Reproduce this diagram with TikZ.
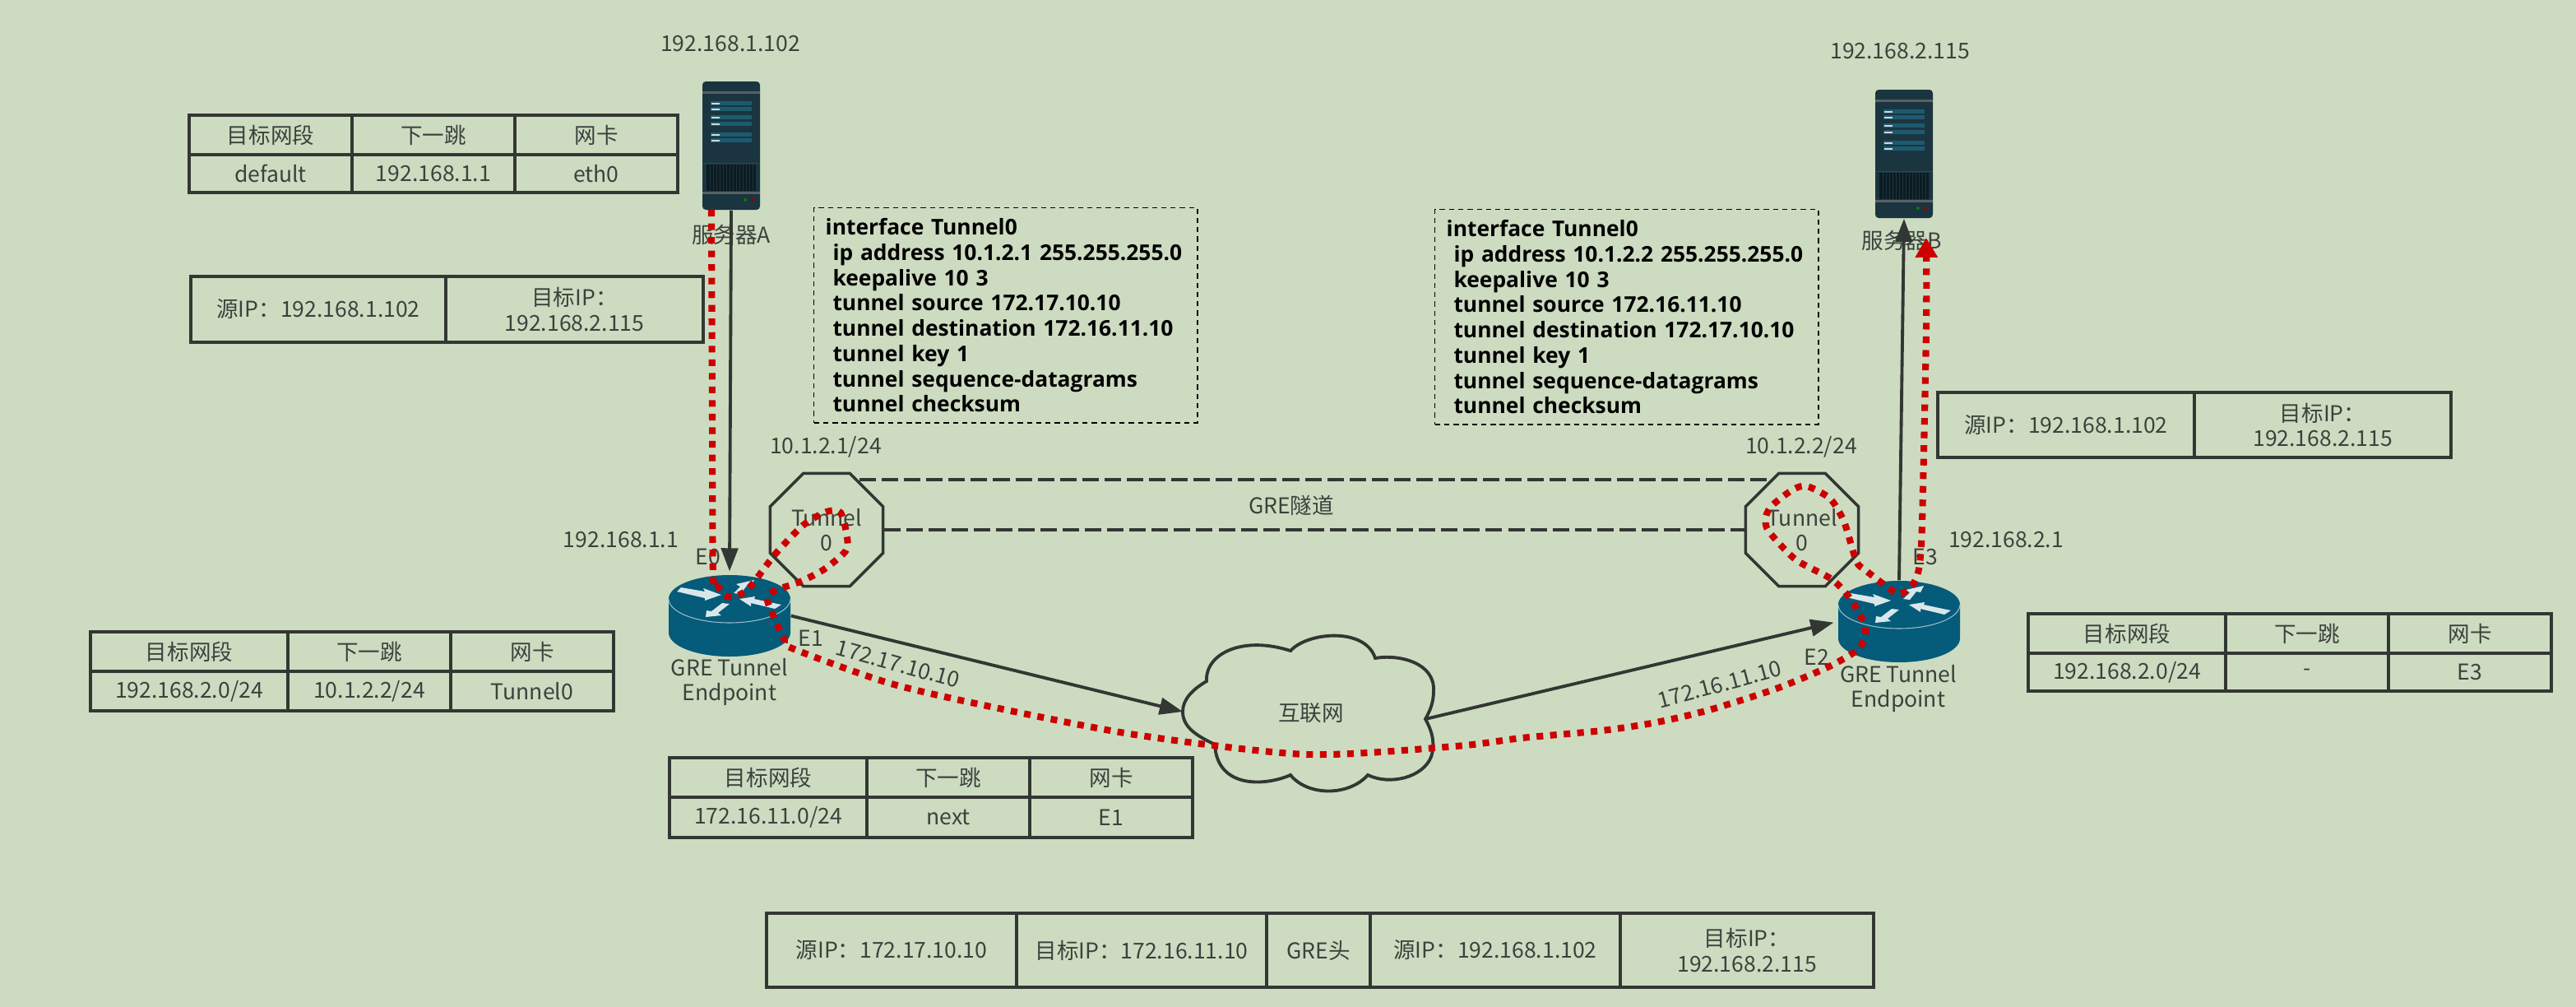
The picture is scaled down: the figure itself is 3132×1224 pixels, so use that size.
\documentclass[tikz,border=0pt]{standalone}
\usepackage{fontspec}
\setmainfont{Noto Sans CJK SC}
\newfontfamily\codefont{Open Sans}
\usetikzlibrary{arrows.meta,shapes.geometric}
\definecolor{paper}{HTML}{CDDCC1}
\definecolor{ink}{HTML}{333733}
\definecolor{labelgray}{HTML}{3C423C}
\definecolor{routerblue}{HTML}{045B7A}
\definecolor{serverdark}{HTML}{1A3540}
\definecolor{serverbar}{HTML}{1D5A70}
\definecolor{routered}{HTML}{CC0000}
\tikzset{
    labeltext/.style={text=labelgray, inner sep=0pt, align=center, font=\fontsize{7.55pt}{8.7pt}\selectfont},
    cellbox/.style={labeltext, draw=ink, line width=1pt},
    codebox/.style={draw=black, line width=0.4pt, dash pattern=on 1.8pt off 1.4pt, anchor=north west,
        inner xsep=0.14cm, inner ysep=0pt, align=left, text=black, font=\codefont\bfseries\fontsize{7.5pt}{8.74pt}\selectfont},
    link/.style={draw=ink, line width=1.1pt},
    linkarrow/.style={link, -{Triangle[length=8pt,width=5.8pt]}},
    grelink/.style={link, dash pattern=on 5.7pt off 2pt},
    redroute/.style={draw=routered, line width=2.3pt, dash pattern=on 2.3pt off 2.4pt,
        -{Triangle[length=6.8pt,width=7.4pt,fill=routered]}},
    octnode/.style={labeltext, draw=ink, line width=1pt, regular polygon, regular polygon sides=8, minimum size=1.483cm},
    server/.pic={
        \node[minimum width=0.7cm, minimum height=1.56cm, inner sep=0pt] (-c) at (35,78) {};
        \fill[serverdark, rounded corners=1.2pt] (0,0) rectangle (70,156);
        \fill[gray!60!serverdark] (0,12) rectangle (70,15);
        \fill[gray!60!serverdark] (0,134) rectangle (70,137);
        \foreach \rowy in {24,31,41,49,62,69}{
            \fill[serverbar] (10,\rowy) rectangle (60,\rowy+5);
            \fill[white!80!serverdark] (11,\rowy+1.5) rectangle (21,\rowy+3.5);
        }
        \fill[serverbar!70!serverdark] (0,99) rectangle (70,100);
        \fill[black!50!serverdark] (5,101) rectangle (65,133);
        \foreach \ventx in {9,13,...,61}{
            \draw[serverdark, line width=0.2pt] (\ventx,101) -- (\ventx,133);
        }
        \fill[green!50!black] (52,144) circle (2);
        \fill[red!60!black] (61,144) circle (2);
    },
    router/.pic={
        \node[minimum width=1.48cm, minimum height=0.99cm, inner sep=0pt] (-c) at (0,20.5) {};
        \fill[routerblue] (-74,0) -- (-74,41) arc[start angle=180, end angle=0, x radius=74, y radius=29] -- (74,0)
            arc[start angle=0, end angle=-180, x radius=74, y radius=29] -- cycle;
        \draw[white!60!routerblue, line width=0.3pt] (-74,0) arc[start angle=180, end angle=0, x radius=74, y radius=29];
        \fill[white!85!routerblue] (-64,-9) -- (-59,-14) -- (-30,-9) -- (-32,-13) -- (-10,-5) -- (-30,2) -- (-30,-1) -- cycle;
        \fill[white!85!routerblue] (5,-7) -- (13,-15) -- (8,-18) -- (30,-23) -- (26,-15) -- (21,-16) -- (13,-6) -- cycle;
        \fill[white!85!routerblue] (0,6) -- (-14,17) -- (-10,20) -- (-29,22) -- (-28,14) -- (-22,15) -- (-9,5) -- cycle;
        \fill[white!85!routerblue] (12,0) -- (31,-3) -- (30,0) -- (63,7) -- (55,12) -- (26,5) -- (26,9) -- cycle;
    }
}
% one table cell, given by its corners
\newcommand{\tablecell}[6]{\node[cellbox, minimum width={(#4-#2)*0.01cm}, minimum height={(#5-#3)*0.01cm}] (#1) at ({(#2+#4)/2},{(#3+#5)/2}) {#6};}

\begin{document}
\begin{tikzpicture}[x=0.01cm, y=-0.01cm]
    \fill[paper] (0,0) rectangle (3132,1224);
    \useasboundingbox (0,0) rectangle (3132,1224);

    % servers
    \pic (srvA) at (854,99) {server};
    \pic (srvB) at (2280,109) {server};
    \node[labeltext] (ipA) at (888,53) {192.168.1.102};
    \node[labeltext] (ipB) at (2310,62) {192.168.2.115};
    \node[labeltext] (nameA) at (889,285) {服务器A};
    \node[labeltext] (nameB) at (2312,292) {服务器B};

    % route tables
    \tablecell{ta1}{230}{140}{428}{188}{目标网段}
    \tablecell{ta2}{428}{140}{626}{188}{下一跳}
    \tablecell{ta3}{626}{140}{824}{188}{网卡}
    \tablecell{ta4}{230}{188}{428}{234}{default}
    \tablecell{ta5}{428}{188}{626}{234}{192.168.1.1}
    \tablecell{ta6}{626}{188}{824}{234}{eth0}

    \tablecell{tb1}{110}{768}{350}{816}{目标网段}
    \tablecell{tb2}{350}{768}{548}{816}{下一跳}
    \tablecell{tb3}{548}{768}{746}{816}{网卡}
    \tablecell{tb4}{110}{816}{350}{864}{192.168.2.0/24}
    \tablecell{tb5}{350}{816}{548}{864}{10.1.2.2/24}
    \tablecell{tb6}{548}{816}{746}{864}{Tunnel0}

    \tablecell{tc1}{814}{921}{1054}{969}{目标网段}
    \tablecell{tc2}{1054}{921}{1252}{969}{下一跳}
    \tablecell{tc3}{1252}{921}{1450}{969}{网卡}
    \tablecell{tc4}{814}{969}{1054}{1018}{172.16.11.0/24}
    \tablecell{tc5}{1054}{969}{1252}{1018}{next}
    \tablecell{tc6}{1252}{969}{1450}{1018}{E1}

    \tablecell{td1}{2466}{746}{2706}{794}{目标网段}
    \tablecell{td2}{2706}{746}{2904}{794}{下一跳}
    \tablecell{td3}{2904}{746}{3102}{794}{网卡}
    \tablecell{td4}{2466}{794}{2706}{840}{192.168.2.0/24}
    \tablecell{td5}{2706}{794}{2904}{840}{-}
    \tablecell{td6}{2904}{794}{3102}{840}{E3}

    % packet headers
    \tablecell{pa1}{232}{336}{542}{416}{源IP：192.168.1.102}
    \tablecell{pa2}{542}{336}{855}{416}{目标IP：\\192.168.2.115}
    \tablecell{pb1}{2356}{477}{2668}{556}{源IP：192.168.1.102}
    \tablecell{pb2}{2668}{477}{2980}{556}{目标IP：\\192.168.2.115}
    \tablecell{pc1}{932}{1110}{1236}{1200}{源IP：172.17.10.10}
    \tablecell{pc2}{1236}{1110}{1540}{1200}{目标IP：172.16.11.10}
    \tablecell{pc3}{1540}{1110}{1666}{1200}{GRE头}
    \tablecell{pc4}{1666}{1110}{1970}{1200}{源IP：192.168.1.102}
    \tablecell{pc5}{1970}{1110}{2278}{1200}{目标IP：\\192.168.2.115}

    % tunnel configs
    \node[codebox, minimum width=4.66cm, minimum height=2.61cm, text width=4.38cm] (cfgA) at (989,252) {interface Tunnel0\\
        \ ip address 10.1.2.1 255.255.255.0\\
        \ keepalive 10 3\\
        \ tunnel source 172.17.10.10\\
        \ tunnel destination 172.16.11.10\\
        \ tunnel key 1\\
        \ tunnel sequence-datagrams\\
        \ tunnel checksum};
    \node[codebox, minimum width=4.66cm, minimum height=2.61cm, text width=4.38cm] (cfgB) at (1744,254) {interface Tunnel0\\
        \ ip address 10.1.2.2 255.255.255.0\\
        \ keepalive 10 3\\
        \ tunnel source 172.16.11.10\\
        \ tunnel destination 172.17.10.10\\
        \ tunnel key 1\\
        \ tunnel sequence-datagrams\\
        \ tunnel checksum};

    % tunnels
    \node[octnode] (tunA) at (1005,644) {Tunnel\\0};
    \node[octnode] (tunB) at (2191,644) {Tunnel\\0};
    \node[labeltext] (addrA) at (1004,543) {10.1.2.1/24};
    \node[labeltext] (addrB) at (2190,543) {10.1.2.2/24};
    \coordinate (greAtop) at (1045,583);
    \coordinate (greBtop) at (2152,583);
    \draw[grelink] (greAtop) -- (greBtop);
    \draw[grelink] (tunA.east) -- (tunB.west);
    \node[labeltext] (grename) at (1570,614) {GRE隧道};

    % routers
    \pic (rtA) at (887,728) {router};
    \pic (rtB) at (2309,735) {router};
    \node[labeltext] (endA) at (887,829) {GRE Tunnel\\Endpoint};
    \node[labeltext] (endB) at (2308,837) {GRE Tunnel\\Endpoint};
    \node[labeltext] (gwA) at (755,656) {192.168.1.1};
    \node[labeltext] (gwB) at (2439,656) {192.168.2.1};
    \node[labeltext] (e0) at (861,677) {E0};
    \node[labeltext] (e1) at (986,776) {E1};
    \node[labeltext] (e2) at (2209,799) {E2};
    \node[labeltext] (e3) at (2341,677) {E3};

    % internet
    \node[labeltext] (inet) at (1594,867) {互联网};
    \coordinate (cloudW) at (1438,865);
    \coordinate (cloudE) at (1733,874);
    \draw[link] (cloudW) .. controls (1438,850) and (1450,838) .. (1467,828)
        .. controls (1465,795) and (1510,772) .. (1569,791)
        .. controls (1590,768) and (1660,762) .. (1672,800)
        .. controls (1700,795) and (1745,805) .. (1743,840)
        .. controls (1743,855) and (1738,865) .. (cloudE)
        .. controls (1742,890) and (1745,905) .. (1740,920)
        .. controls (1730,945) and (1690,955) .. (1663,942)
        .. controls (1640,968) and (1590,968) .. (1569,942)
        .. controls (1540,955) and (1480,960) .. (1477,905)
        .. controls (1457,895) and (1438,885) .. (cloudW);
    \node[labeltext, rotate=-15.5] (wanA) at (1092,807) {172.17.10.10};
    \node[labeltext, rotate=15] (wanB) at (2091,832) {172.16.11.10};

    % links
    \draw[linkarrow, shorten >=1.1pt] (srvA-c.south) -- (rtA-c.north);
    \draw[linkarrow] (rtB-c.north) -- (srvB-c.south);
    \draw[linkarrow] (rtA-c.east) -- (cloudW);
    \draw[linkarrow, shorten >=1.4pt] (cloudE) -- (rtB-c.west);

    % packet route
    \coordinate (routeS) at (865,255);
    \coordinate (routeT) at (2342,289);
    \draw[redroute] plot[smooth, tension=0.45] coordinates {(routeS) (866,500) (867,700) (873,713) (884,725) (899,723)
        (913,712) (943,673) (977,638) (1005,622) (1022,623) (1030,653) (1028,670) (1002,692) (973,707) (942,718)
        (933,730) (953,776) (963,788) (1080,830) (1200,858) (1380,893) (1588,917) (1770,907) (1850,897) (1948,888)
        (2014,878) (2078,863) (2157,838) (2218,813) (2248,797) (2261,787) (2268,773) (2266,757) (2250,728) (2227,704)
        (2183,680) (2150,645) (2147,628) (2155,614) (2180,595) (2197,591) (2225,606) (2242,634) (2257,682) (2268,693)
        (2294,713) (2308,722) (2322,716) (2330,702) (2334,685) (2337,636) (2342,400) (routeT)};
\end{tikzpicture}
\end{document}
